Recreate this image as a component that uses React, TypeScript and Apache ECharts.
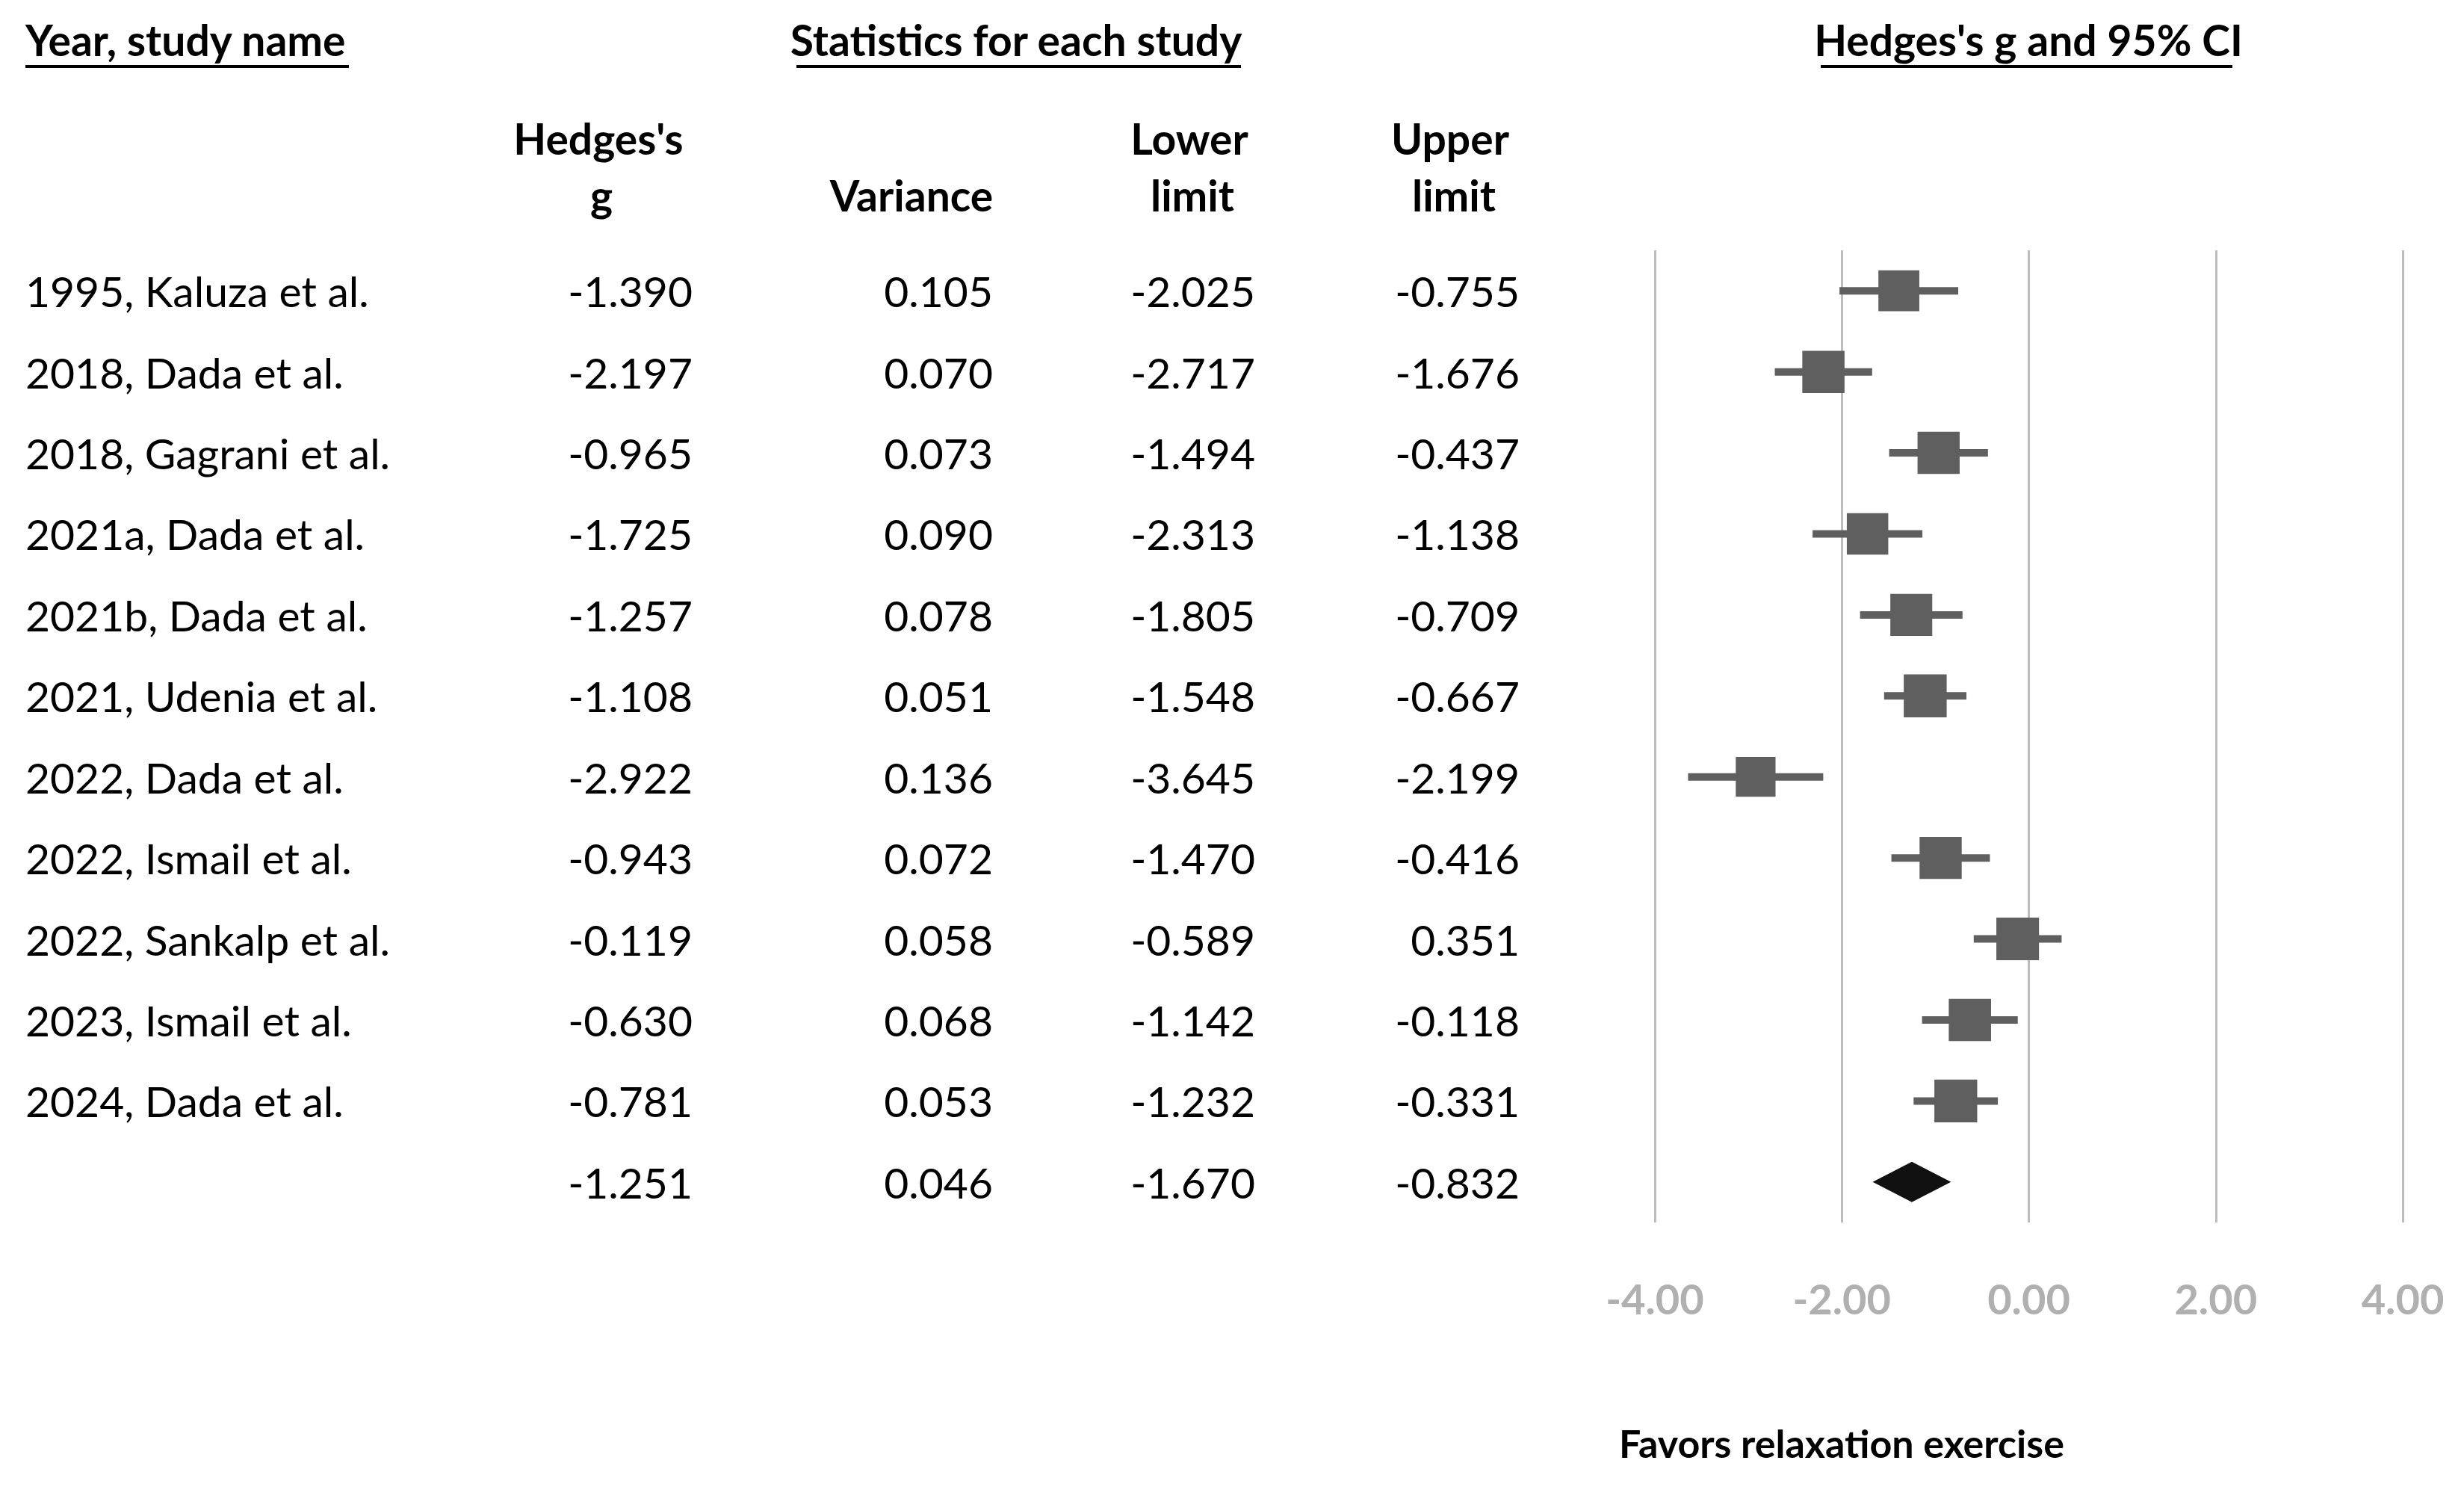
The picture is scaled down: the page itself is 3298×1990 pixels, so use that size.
import { useEffect, useRef } from "react";
import * as echarts from "echarts";

const studies = [
  "1995, Kaluza et al.",
  "2018, Dada et al.",
  "2018, Gagrani et al.",
  "2021a, Dada et al.",
  "2021b, Dada et al.",
  "2021, Udenia et al.",
  "2022, Dada et al.",
  "2022, Ismail et al.",
  "2022, Sankalp et al.",
  "2023, Ismail et al.",
  "2024, Dada et al.",
];
const hedgesG = [-1.39, -2.197, -0.965, -1.725, -1.257, -1.108, -2.922, -0.943, -0.119, -0.63, -0.781];
const variances = [0.105, 0.07, 0.073, 0.09, 0.078, 0.051, 0.136, 0.072, 0.058, 0.068, 0.053];
const lowerLimits = [-2.025, -2.717, -1.494, -2.313, -1.805, -1.548, -3.645, -1.47, -0.589, -1.142, -1.232];
const upperLimits = [-0.755, -1.676, -0.437, -1.138, -0.709, -0.667, -2.199, -0.416, 0.351, -0.118, -0.331];
const summaryG = -1.251;
const summaryVariance = 0.046;
const summaryLower = -1.67;
const summaryUpper = -0.832;
const xTicks = [-4, -2, 0, 2, 4];

const FONT = "Lato, 'Open Sans', sans-serif";
const FS = 57;

export default function App() {
  const ref = useRef<HTMLDivElement>(null);
  useEffect(() => {
    document.body.style.margin = "0";
    const chart = echarts.init(ref.current!, null, { renderer: "svg" });
    const rows = [...studies, ""];
    const nRows = rows.length;

    const allG = [...hedgesG, summaryG];
    const allV = [...variances, summaryVariance];
    const allL = [...lowerLimits, summaryLower];
    const allU = [...upperLimits, summaryUpper];

    const tableCols = [
      { x: 34, align: "left", vals: rows },
      { x: 927, align: "right", vals: allG.map((v) => v.toFixed(3)) },
      { x: 1329, align: "right", vals: allV.map((v) => v.toFixed(3)) },
      { x: 1680, align: "right", vals: allL.map((v) => v.toFixed(3)) },
      { x: 2034, align: "right", vals: allU.map((v) => v.toFixed(3)) },
    ];

    const tableSeries = tableCols.map((col) => ({
      type: "custom",
      xAxisIndex: 1,
      yAxisIndex: 1,
      data: col.vals.map((_, i) => [col.x, i]),
      encode: { x: 0, y: 1 },
      renderItem: (params: any, api: any) => {
        const p = api.coord([api.value(0), api.value(1)]);
        return {
          type: "text",
          x: p[0],
          y: p[1],
          style: {
            text: col.vals[params.dataIndex],
            align: col.align,
            verticalAlign: "middle",
            fontSize: FS,
            fontFamily: FONT,
            fill: "#000",
          },
        };
      },
    }));

    const forestData = studies.map((_, i) => [lowerLimits[i], hedgesG[i], upperLimits[i], i, variances[i]]);

    const boldText = (text: string, x: number, y: number, align = "center", size = FS) => ({
      type: "text",
      x,
      y,
      style: {
        text,
        align,
        verticalAlign: "middle",
        fontSize: size,
        fontWeight: "bold",
        fontFamily: FONT,
        fill: "#000",
      },
    });
    const underline = (x1: number, x2: number, y: number) => ({
      type: "line",
      shape: { x1, y1: y, x2, y2: y },
      style: { stroke: "#000", lineWidth: 4 },
    });

    chart.setOption({
      animation: false,
      backgroundColor: "#fff",
      grid: [
        { left: 2215, right: 82, top: 335, bottom: 354 },
        { left: 0, right: 0, top: 335, bottom: 354 },
      ],
      xAxis: [
        {
          type: "value",
          gridIndex: 0,
          min: -4,
          max: 4,
          interval: 2,
          axisLine: { show: false },
          axisTick: { show: false },
          splitLine: { show: true, lineStyle: { color: "#bdbdbd", width: 3 } },
          axisLabel: {
            formatter: (v: number) => (xTicks.includes(v) ? v.toFixed(2) : ""),
            color: "#b0b0b0",
            fontWeight: "bold",
            fontSize: 56,
            fontFamily: FONT,
            margin: 73,
          },
        },
        { type: "value", gridIndex: 1, min: 0, max: 3298, show: false },
      ],
      yAxis: [
        {
          type: "category",
          gridIndex: 0,
          data: rows.map((r, i) => r || "Overall" + i),
          inverse: true,
          axisLine: { show: false },
          axisTick: { show: false },
          axisLabel: { show: false },
          splitLine: { show: false },
        },
        {
          type: "category",
          gridIndex: 1,
          data: rows.map((r, i) => r || "Overall" + i),
          inverse: true,
          show: false,
        },
      ],
      series: [
        {
          type: "custom",
          xAxisIndex: 0,
          yAxisIndex: 0,
          data: forestData,
          encode: { x: [0, 1, 2], y: 3 },
          renderItem: (params: any, api: any) => {
            const lo = api.coord([api.value(0), api.value(3)]);
            const c = api.coord([api.value(1), api.value(3)]);
            const hi = api.coord([api.value(2), api.value(3)]);
            const s = 60 - 50 * api.value(4);
            return {
              type: "group",
              children: [
                {
                  type: "line",
                  shape: { x1: lo[0], y1: lo[1], x2: hi[0], y2: hi[1] },
                  style: { stroke: "#5f5f5f", lineWidth: 10 },
                },
                {
                  type: "rect",
                  shape: { x: c[0] - s / 2, y: c[1] - s / 2, width: s, height: s },
                  style: { fill: "#5f5f5f" },
                },
              ],
            };
          },
        },
        {
          type: "custom",
          xAxisIndex: 0,
          yAxisIndex: 0,
          data: [[summaryLower, summaryG, summaryUpper, nRows - 1]],
          encode: { x: [0, 1, 2], y: 3 },
          renderItem: (params: any, api: any) => {
            const lo = api.coord([api.value(0), api.value(3)]);
            const c = api.coord([api.value(1), api.value(3)]);
            const hi = api.coord([api.value(2), api.value(3)]);
            const h = 27;
            return {
              type: "polygon",
              shape: {
                points: [
                  [lo[0], lo[1]],
                  [c[0], c[1] - h],
                  [hi[0], hi[1]],
                  [c[0], c[1] + h],
                ],
              },
              style: { fill: "#111" },
            };
          },
        },
        ...tableSeries,
      ],
      graphic: [
        boldText("Year, study name", 34, 53, "left"),
        underline(34, 467, 89),
        boldText("Statistics for each study", 1360, 53),
        underline(1066, 1661, 89),
        boldText("Hedges's g and 95% CI", 2715, 53),
        underline(2437, 2988, 89),
        boldText("Hedges's", 801, 185),
        boldText("g", 805, 261),
        boldText("Variance", 1220, 261),
        boldText("Lower", 1592, 185),
        boldText("limit", 1596, 261),
        boldText("Upper", 1941, 185),
        boldText("limit", 1946, 261),
        boldText("Favors relaxation exercise", 2465, 1931, "center", 52),
      ],
    });
    return () => chart.dispose();
  }, []);
  return <div ref={ref} style={{ width: 3298, height: 1990 }} />;
}
